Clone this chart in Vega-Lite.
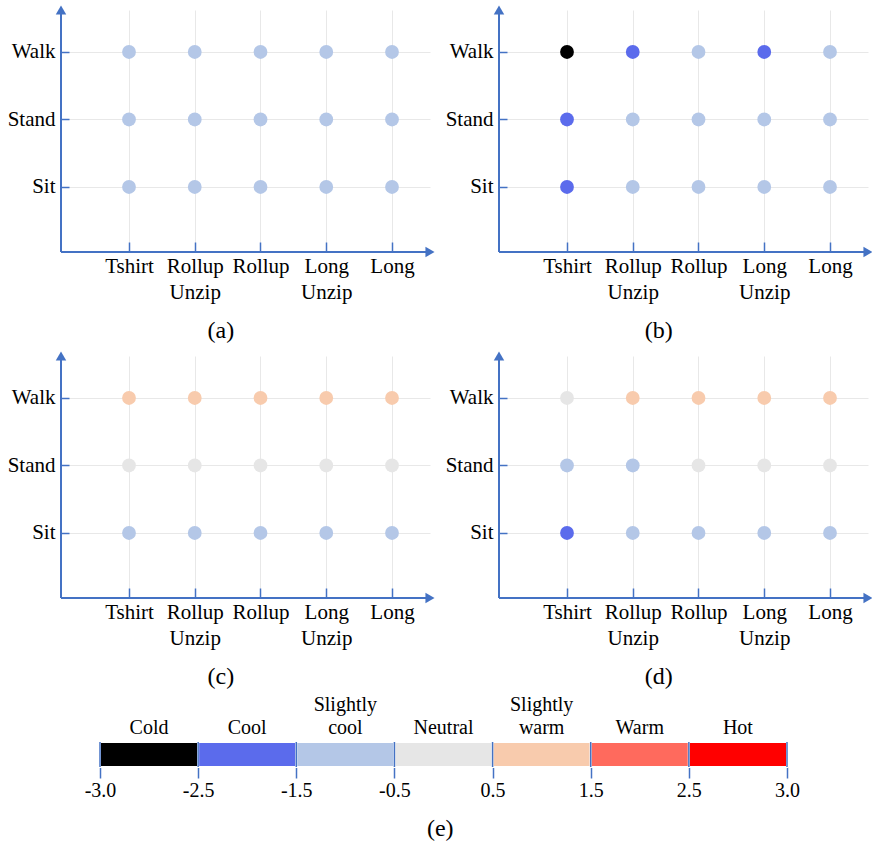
{
  "$schema": "https://vega.github.io/schema/vega-lite/v6.json",
  "background": "white",
  "padding": {"left": 7, "top": 5, "right": 0, "bottom": 5},
  "config": {
    "view": {"stroke": null},
    "font": "Liberation Serif",
    "axis": {"labelFont": "Liberation Serif", "labelFontSize": 21, "labelColor": "#000000", "domain": false, "tickColor": "#4472c4", "tickWidth": 1.5, "gridColor": "#e8e8e8", "gridWidth": 1},
    "title": {"font": "Liberation Serif", "fontSize": 24, "fontWeight": "normal", "color": "#000000", "orient": "bottom", "frame": "bounds", "anchor": "middle", "offset": 17}
  },
  "datasets": {
    "cells": [
      {"panel": "a", "activity": "Walk", "clothing": "Tshirt", "sensation": "Slightly cool"},
      {"panel": "a", "activity": "Walk", "clothing": "Rollup Unzip", "sensation": "Slightly cool"},
      {"panel": "a", "activity": "Walk", "clothing": "Rollup", "sensation": "Slightly cool"},
      {"panel": "a", "activity": "Walk", "clothing": "Long Unzip", "sensation": "Slightly cool"},
      {"panel": "a", "activity": "Walk", "clothing": "Long", "sensation": "Slightly cool"},
      {"panel": "a", "activity": "Stand", "clothing": "Tshirt", "sensation": "Slightly cool"},
      {"panel": "a", "activity": "Stand", "clothing": "Rollup Unzip", "sensation": "Slightly cool"},
      {"panel": "a", "activity": "Stand", "clothing": "Rollup", "sensation": "Slightly cool"},
      {"panel": "a", "activity": "Stand", "clothing": "Long Unzip", "sensation": "Slightly cool"},
      {"panel": "a", "activity": "Stand", "clothing": "Long", "sensation": "Slightly cool"},
      {"panel": "a", "activity": "Sit", "clothing": "Tshirt", "sensation": "Slightly cool"},
      {"panel": "a", "activity": "Sit", "clothing": "Rollup Unzip", "sensation": "Slightly cool"},
      {"panel": "a", "activity": "Sit", "clothing": "Rollup", "sensation": "Slightly cool"},
      {"panel": "a", "activity": "Sit", "clothing": "Long Unzip", "sensation": "Slightly cool"},
      {"panel": "a", "activity": "Sit", "clothing": "Long", "sensation": "Slightly cool"},
      {"panel": "b", "activity": "Walk", "clothing": "Tshirt", "sensation": "Cold"},
      {"panel": "b", "activity": "Walk", "clothing": "Rollup Unzip", "sensation": "Cool"},
      {"panel": "b", "activity": "Walk", "clothing": "Rollup", "sensation": "Slightly cool"},
      {"panel": "b", "activity": "Walk", "clothing": "Long Unzip", "sensation": "Cool"},
      {"panel": "b", "activity": "Walk", "clothing": "Long", "sensation": "Slightly cool"},
      {"panel": "b", "activity": "Stand", "clothing": "Tshirt", "sensation": "Cool"},
      {"panel": "b", "activity": "Stand", "clothing": "Rollup Unzip", "sensation": "Slightly cool"},
      {"panel": "b", "activity": "Stand", "clothing": "Rollup", "sensation": "Slightly cool"},
      {"panel": "b", "activity": "Stand", "clothing": "Long Unzip", "sensation": "Slightly cool"},
      {"panel": "b", "activity": "Stand", "clothing": "Long", "sensation": "Slightly cool"},
      {"panel": "b", "activity": "Sit", "clothing": "Tshirt", "sensation": "Cool"},
      {"panel": "b", "activity": "Sit", "clothing": "Rollup Unzip", "sensation": "Slightly cool"},
      {"panel": "b", "activity": "Sit", "clothing": "Rollup", "sensation": "Slightly cool"},
      {"panel": "b", "activity": "Sit", "clothing": "Long Unzip", "sensation": "Slightly cool"},
      {"panel": "b", "activity": "Sit", "clothing": "Long", "sensation": "Slightly cool"},
      {"panel": "c", "activity": "Walk", "clothing": "Tshirt", "sensation": "Slightly warm"},
      {"panel": "c", "activity": "Walk", "clothing": "Rollup Unzip", "sensation": "Slightly warm"},
      {"panel": "c", "activity": "Walk", "clothing": "Rollup", "sensation": "Slightly warm"},
      {"panel": "c", "activity": "Walk", "clothing": "Long Unzip", "sensation": "Slightly warm"},
      {"panel": "c", "activity": "Walk", "clothing": "Long", "sensation": "Slightly warm"},
      {"panel": "c", "activity": "Stand", "clothing": "Tshirt", "sensation": "Neutral"},
      {"panel": "c", "activity": "Stand", "clothing": "Rollup Unzip", "sensation": "Neutral"},
      {"panel": "c", "activity": "Stand", "clothing": "Rollup", "sensation": "Neutral"},
      {"panel": "c", "activity": "Stand", "clothing": "Long Unzip", "sensation": "Neutral"},
      {"panel": "c", "activity": "Stand", "clothing": "Long", "sensation": "Neutral"},
      {"panel": "c", "activity": "Sit", "clothing": "Tshirt", "sensation": "Slightly cool"},
      {"panel": "c", "activity": "Sit", "clothing": "Rollup Unzip", "sensation": "Slightly cool"},
      {"panel": "c", "activity": "Sit", "clothing": "Rollup", "sensation": "Slightly cool"},
      {"panel": "c", "activity": "Sit", "clothing": "Long Unzip", "sensation": "Slightly cool"},
      {"panel": "c", "activity": "Sit", "clothing": "Long", "sensation": "Slightly cool"},
      {"panel": "d", "activity": "Walk", "clothing": "Tshirt", "sensation": "Neutral"},
      {"panel": "d", "activity": "Walk", "clothing": "Rollup Unzip", "sensation": "Slightly warm"},
      {"panel": "d", "activity": "Walk", "clothing": "Rollup", "sensation": "Slightly warm"},
      {"panel": "d", "activity": "Walk", "clothing": "Long Unzip", "sensation": "Slightly warm"},
      {"panel": "d", "activity": "Walk", "clothing": "Long", "sensation": "Slightly warm"},
      {"panel": "d", "activity": "Stand", "clothing": "Tshirt", "sensation": "Slightly cool"},
      {"panel": "d", "activity": "Stand", "clothing": "Rollup Unzip", "sensation": "Slightly cool"},
      {"panel": "d", "activity": "Stand", "clothing": "Rollup", "sensation": "Neutral"},
      {"panel": "d", "activity": "Stand", "clothing": "Long Unzip", "sensation": "Neutral"},
      {"panel": "d", "activity": "Stand", "clothing": "Long", "sensation": "Neutral"},
      {"panel": "d", "activity": "Sit", "clothing": "Tshirt", "sensation": "Cool"},
      {"panel": "d", "activity": "Sit", "clothing": "Rollup Unzip", "sensation": "Slightly cool"},
      {"panel": "d", "activity": "Sit", "clothing": "Rollup", "sensation": "Slightly cool"},
      {"panel": "d", "activity": "Sit", "clothing": "Long Unzip", "sensation": "Slightly cool"},
      {"panel": "d", "activity": "Sit", "clothing": "Long", "sensation": "Slightly cool"}
    ],
    "sens": [
      {"sensation": "Cold"}, {"sensation": "Cool"}, {"sensation": "Slightly cool"}, {"sensation": "Neutral"},
      {"sensation": "Slightly warm"}, {"sensation": "Warm"}, {"sensation": "Hot"}
    ],
    "bounds": [
      {"b": "-3.0"}, {"b": "-2.5"}, {"b": "-1.5"}, {"b": "-0.5"}, {"b": "0.5"}, {"b": "1.5"}, {"b": "2.5"}, {"b": "3.0"}
    ]
  },
  "columns": 2,
  "spacing": {"row": 104, "column": 69},
  "bounds": "flush",
  "concat": [
    {
      "width": 369, "height": 242, "title": "(a)",
      "layer": [
        {"data": {"name": "cells"}, "transform": [{"filter": "datum.panel == 'a'"}],
         "mark": {"type": "circle", "size": 190, "opacity": 1},
         "encoding": {
           "x": {"field": "clothing", "type": "nominal", "title": null, "scale": {"type": "point", "domain": ["Tshirt", "Rollup Unzip", "Rollup", "Long Unzip", "Long"], "padding": 0.806, "align": 0.6415}, "axis": {"orient": "bottom", "offset": -10, "tickSize": 10, "grid": true, "labelAngle": 0, "labelPadding": 3, "labelExpr": "split(datum.value, ' ')", "labelLineHeight": 26}},
           "y": {"field": "activity", "type": "nominal", "title": null, "scale": {"type": "point", "domain": ["Walk", "Stand", "Sit"], "padding": 0.7926, "align": 0.3925}, "axis": {"orient": "left", "offset": -8, "tickSize": 8, "grid": true, "labelPadding": 6}},
           "color": {"field": "sensation", "type": "nominal", "scale": {"domain": ["Cold", "Cool", "Slightly cool", "Neutral", "Slightly warm", "Warm", "Hot"], "range": ["#000000", "#5b6bec", "#b4c7e7", "#e6e6e6", "#f8cbad", "#ff6a5d", "#ff0000"]}, "legend": null}
         }},
        {"data": {"values": [{}]}, "mark": {"type": "rule", "color": "#4472c4", "strokeWidth": 2},
         "encoding": {"x": {"datum": 0, "type": "quantitative", "scale": {"domain": [0, 1]}, "axis": null}, "y": {"datum": 0, "type": "quantitative", "scale": {"domain": [0, 1]}, "axis": null}, "y2": {"datum": 1}}},
        {"data": {"values": [{}]}, "mark": {"type": "rule", "color": "#4472c4", "strokeWidth": 2},
         "encoding": {"x": {"datum": 0, "type": "quantitative", "scale": {"domain": [0, 1]}, "axis": null}, "x2": {"datum": 1}, "y": {"datum": 0, "type": "quantitative", "scale": {"domain": [0, 1]}, "axis": null}}},
        {"data": {"values": [{}]}, "mark": {"type": "point", "shape": "triangle-up", "filled": true, "color": "#4472c4", "size": 110, "opacity": 1},
         "encoding": {"x": {"datum": 0, "type": "quantitative", "scale": {"domain": [0, 1]}, "axis": null}, "y": {"datum": 1, "type": "quantitative", "scale": {"domain": [0, 1]}, "axis": null}}},
        {"data": {"values": [{}]}, "mark": {"type": "point", "shape": "triangle-right", "filled": true, "color": "#4472c4", "size": 110, "opacity": 1},
         "encoding": {"x": {"datum": 1, "type": "quantitative", "scale": {"domain": [0, 1]}, "axis": null}, "y": {"datum": 0, "type": "quantitative", "scale": {"domain": [0, 1]}, "axis": null}}}
      ],
      "resolve": {"scale": {"x": "independent", "y": "independent"}}
    },
    {
      "width": 369, "height": 242, "title": "(b)",
      "layer": [
        {"data": {"name": "cells"}, "transform": [{"filter": "datum.panel == 'b'"}],
         "mark": {"type": "circle", "size": 190, "opacity": 1},
         "encoding": {
           "x": {"field": "clothing", "type": "nominal", "title": null, "scale": {"type": "point", "domain": ["Tshirt", "Rollup Unzip", "Rollup", "Long Unzip", "Long"], "padding": 0.806, "align": 0.6415}, "axis": {"orient": "bottom", "offset": -10, "tickSize": 10, "grid": true, "labelAngle": 0, "labelPadding": 3, "labelExpr": "split(datum.value, ' ')", "labelLineHeight": 26}},
           "y": {"field": "activity", "type": "nominal", "title": null, "scale": {"type": "point", "domain": ["Walk", "Stand", "Sit"], "padding": 0.7926, "align": 0.3925}, "axis": {"orient": "left", "offset": -8, "tickSize": 8, "grid": true, "labelPadding": 6}},
           "color": {"field": "sensation", "type": "nominal", "scale": {"domain": ["Cold", "Cool", "Slightly cool", "Neutral", "Slightly warm", "Warm", "Hot"], "range": ["#000000", "#5b6bec", "#b4c7e7", "#e6e6e6", "#f8cbad", "#ff6a5d", "#ff0000"]}, "legend": null}
         }},
        {"data": {"values": [{}]}, "mark": {"type": "rule", "color": "#4472c4", "strokeWidth": 2},
         "encoding": {"x": {"datum": 0, "type": "quantitative", "scale": {"domain": [0, 1]}, "axis": null}, "y": {"datum": 0, "type": "quantitative", "scale": {"domain": [0, 1]}, "axis": null}, "y2": {"datum": 1}}},
        {"data": {"values": [{}]}, "mark": {"type": "rule", "color": "#4472c4", "strokeWidth": 2},
         "encoding": {"x": {"datum": 0, "type": "quantitative", "scale": {"domain": [0, 1]}, "axis": null}, "x2": {"datum": 1}, "y": {"datum": 0, "type": "quantitative", "scale": {"domain": [0, 1]}, "axis": null}}},
        {"data": {"values": [{}]}, "mark": {"type": "point", "shape": "triangle-up", "filled": true, "color": "#4472c4", "size": 110, "opacity": 1},
         "encoding": {"x": {"datum": 0, "type": "quantitative", "scale": {"domain": [0, 1]}, "axis": null}, "y": {"datum": 1, "type": "quantitative", "scale": {"domain": [0, 1]}, "axis": null}}},
        {"data": {"values": [{}]}, "mark": {"type": "point", "shape": "triangle-right", "filled": true, "color": "#4472c4", "size": 110, "opacity": 1},
         "encoding": {"x": {"datum": 1, "type": "quantitative", "scale": {"domain": [0, 1]}, "axis": null}, "y": {"datum": 0, "type": "quantitative", "scale": {"domain": [0, 1]}, "axis": null}}}
      ],
      "resolve": {"scale": {"x": "independent", "y": "independent"}}
    },
    {
      "width": 369, "height": 242, "title": "(c)",
      "layer": [
        {"data": {"name": "cells"}, "transform": [{"filter": "datum.panel == 'c'"}],
         "mark": {"type": "circle", "size": 190, "opacity": 1},
         "encoding": {
           "x": {"field": "clothing", "type": "nominal", "title": null, "scale": {"type": "point", "domain": ["Tshirt", "Rollup Unzip", "Rollup", "Long Unzip", "Long"], "padding": 0.806, "align": 0.6415}, "axis": {"orient": "bottom", "offset": -10, "tickSize": 10, "grid": true, "labelAngle": 0, "labelPadding": 3, "labelExpr": "split(datum.value, ' ')", "labelLineHeight": 26}},
           "y": {"field": "activity", "type": "nominal", "title": null, "scale": {"type": "point", "domain": ["Walk", "Stand", "Sit"], "padding": 0.7926, "align": 0.3925}, "axis": {"orient": "left", "offset": -8, "tickSize": 8, "grid": true, "labelPadding": 6}},
           "color": {"field": "sensation", "type": "nominal", "scale": {"domain": ["Cold", "Cool", "Slightly cool", "Neutral", "Slightly warm", "Warm", "Hot"], "range": ["#000000", "#5b6bec", "#b4c7e7", "#e6e6e6", "#f8cbad", "#ff6a5d", "#ff0000"]}, "legend": null}
         }},
        {"data": {"values": [{}]}, "mark": {"type": "rule", "color": "#4472c4", "strokeWidth": 2},
         "encoding": {"x": {"datum": 0, "type": "quantitative", "scale": {"domain": [0, 1]}, "axis": null}, "y": {"datum": 0, "type": "quantitative", "scale": {"domain": [0, 1]}, "axis": null}, "y2": {"datum": 1}}},
        {"data": {"values": [{}]}, "mark": {"type": "rule", "color": "#4472c4", "strokeWidth": 2},
         "encoding": {"x": {"datum": 0, "type": "quantitative", "scale": {"domain": [0, 1]}, "axis": null}, "x2": {"datum": 1}, "y": {"datum": 0, "type": "quantitative", "scale": {"domain": [0, 1]}, "axis": null}}},
        {"data": {"values": [{}]}, "mark": {"type": "point", "shape": "triangle-up", "filled": true, "color": "#4472c4", "size": 110, "opacity": 1},
         "encoding": {"x": {"datum": 0, "type": "quantitative", "scale": {"domain": [0, 1]}, "axis": null}, "y": {"datum": 1, "type": "quantitative", "scale": {"domain": [0, 1]}, "axis": null}}},
        {"data": {"values": [{}]}, "mark": {"type": "point", "shape": "triangle-right", "filled": true, "color": "#4472c4", "size": 110, "opacity": 1},
         "encoding": {"x": {"datum": 1, "type": "quantitative", "scale": {"domain": [0, 1]}, "axis": null}, "y": {"datum": 0, "type": "quantitative", "scale": {"domain": [0, 1]}, "axis": null}}}
      ],
      "resolve": {"scale": {"x": "independent", "y": "independent"}}
    },
    {
      "width": 369, "height": 242, "title": "(d)",
      "layer": [
        {"data": {"name": "cells"}, "transform": [{"filter": "datum.panel == 'd'"}],
         "mark": {"type": "circle", "size": 190, "opacity": 1},
         "encoding": {
           "x": {"field": "clothing", "type": "nominal", "title": null, "scale": {"type": "point", "domain": ["Tshirt", "Rollup Unzip", "Rollup", "Long Unzip", "Long"], "padding": 0.806, "align": 0.6415}, "axis": {"orient": "bottom", "offset": -10, "tickSize": 10, "grid": true, "labelAngle": 0, "labelPadding": 3, "labelExpr": "split(datum.value, ' ')", "labelLineHeight": 26}},
           "y": {"field": "activity", "type": "nominal", "title": null, "scale": {"type": "point", "domain": ["Walk", "Stand", "Sit"], "padding": 0.7926, "align": 0.3925}, "axis": {"orient": "left", "offset": -8, "tickSize": 8, "grid": true, "labelPadding": 6}},
           "color": {"field": "sensation", "type": "nominal", "scale": {"domain": ["Cold", "Cool", "Slightly cool", "Neutral", "Slightly warm", "Warm", "Hot"], "range": ["#000000", "#5b6bec", "#b4c7e7", "#e6e6e6", "#f8cbad", "#ff6a5d", "#ff0000"]}, "legend": null}
         }},
        {"data": {"values": [{}]}, "mark": {"type": "rule", "color": "#4472c4", "strokeWidth": 2},
         "encoding": {"x": {"datum": 0, "type": "quantitative", "scale": {"domain": [0, 1]}, "axis": null}, "y": {"datum": 0, "type": "quantitative", "scale": {"domain": [0, 1]}, "axis": null}, "y2": {"datum": 1}}},
        {"data": {"values": [{}]}, "mark": {"type": "rule", "color": "#4472c4", "strokeWidth": 2},
         "encoding": {"x": {"datum": 0, "type": "quantitative", "scale": {"domain": [0, 1]}, "axis": null}, "x2": {"datum": 1}, "y": {"datum": 0, "type": "quantitative", "scale": {"domain": [0, 1]}, "axis": null}}},
        {"data": {"values": [{}]}, "mark": {"type": "point", "shape": "triangle-up", "filled": true, "color": "#4472c4", "size": 110, "opacity": 1},
         "encoding": {"x": {"datum": 0, "type": "quantitative", "scale": {"domain": [0, 1]}, "axis": null}, "y": {"datum": 1, "type": "quantitative", "scale": {"domain": [0, 1]}, "axis": null}}},
        {"data": {"values": [{}]}, "mark": {"type": "point", "shape": "triangle-right", "filled": true, "color": "#4472c4", "size": 110, "opacity": 1},
         "encoding": {"x": {"datum": 1, "type": "quantitative", "scale": {"domain": [0, 1]}, "axis": null}, "y": {"datum": 0, "type": "quantitative", "scale": {"domain": [0, 1]}, "axis": null}}}
      ],
      "resolve": {"scale": {"x": "independent", "y": "independent"}}
    },
    {
      "width": 369, "height": 65, "title": {"text": "(e)", "dx": 10},
      "layer": [
        {"data": {"name": "sens"}, "mark": {"type": "bar", "stroke": "white", "strokeWidth": 2},
         "encoding": {
           "x": {"field": "sensation", "type": "nominal", "title": null, "scale": {"type": "band", "domain": ["Cold", "Cool", "Slightly cool", "Neutral", "Slightly warm", "Warm", "Hot"], "range": [39, 726], "paddingInner": 0, "paddingOuter": 0}, "axis": {"orient": "top", "offset": -39, "ticks": false, "grid": false, "labelAngle": 0, "labelPadding": 27, "labelFontSize": 20, "labelBaseline": "bottom", "labelExpr": "length(split(datum.value, ' ')) > 1 ? split(datum.value, ' ') : ['', datum.value]", "labelLineHeight": 23}},
           "y": {"datum": 1, "type": "quantitative", "scale": {"domain": [0, 2.5]}, "axis": null},
           "y2": {"datum": 0},
           "color": {"field": "sensation", "type": "nominal", "scale": {"domain": ["Cold", "Cool", "Slightly cool", "Neutral", "Slightly warm", "Warm", "Hot"], "range": ["#000000", "#5b6bec", "#b4c7e7", "#e6e6e6", "#f8cbad", "#ff6a5d", "#ff0000"]}, "legend": null}
         }},
        {"data": {"name": "bounds"}, "mark": {"type": "rule", "color": "#4472c4", "strokeWidth": 1.5},
         "encoding": {
           "x": {"field": "b", "type": "ordinal", "title": null, "scale": {"type": "point", "domain": ["-3.0", "-2.5", "-1.5", "-0.5", "0.5", "1.5", "2.5", "3.0"], "range": [39, 726], "padding": 0}, "axis": {"orient": "bottom", "tickSize": 11, "grid": false, "labelAngle": 0, "labelPadding": 2, "labelFontSize": 20}},
           "y": {"datum": 1, "type": "quantitative"},
           "y2": {"datum": 0}
         }}
      ],
      "resolve": {"scale": {"x": "independent"}}
    }
  ]
}
